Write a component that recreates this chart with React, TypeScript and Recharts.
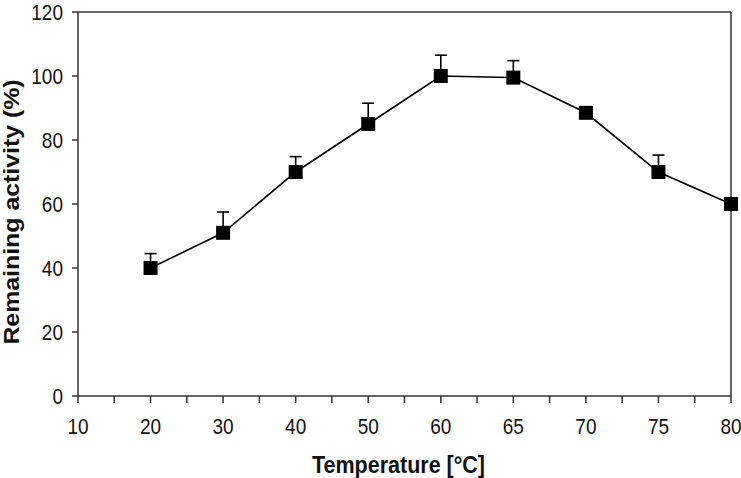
import React from "react";
import { LineChart, Line, XAxis, YAxis, ErrorBar, ReferenceLine, Label } from "recharts";

const temps = ["10", "20", "30", "40", "50", "60", "65", "70", "75", "80"];
const activity: (number | null)[] = [null, 40, 51, 70, 85, 100, 99.5, 88.5, 70, 60];
const errUp: (number | null)[] = [null, 4.5, 6.5, 4.8, 6.5, 6.5, 5.3, 0, 5.3, 0];
const yTicks = [0, 20, 40, 60, 80, 100, 120];
const xTicks = Array.from({ length: temps.length * 2 - 1 }, (_, i) => i / 2);

const data = temps.map((t, i) => ({
  idx: i,
  temp: t,
  activity: activity[i],
  err: errUp[i] == null ? null : [0, errUp[i]],
}));

const FONT = "'Liberation Sans', Arial, sans-serif";
const STRETCH = 1.13;
const AXIS = "#333";

const XTick = (props: any) => {
  const { x, y, payload } = props;
  const v = payload.value;
  const label = Number.isInteger(v) ? temps[v] : "";
  return (
    <g transform={`translate(${x},${y}) scale(1,${STRETCH})`}>
      <text x={0} y={0} dy="0.71em" textAnchor="middle" fontFamily={FONT} fontSize={19} fill="#111">
        {label}
      </text>
    </g>
  );
};

const YTick = (props: any) => {
  const { x, y, payload } = props;
  return (
    <g transform={`translate(${x},${y}) scale(1,${STRETCH})`}>
      <text x={0} y={0} dy="0.355em" textAnchor="end" fontFamily={FONT} fontSize={19} fill="#111">
        {payload.value}
      </text>
    </g>
  );
};

const Dot = (props: any) => {
  const { cx, cy, index } = props;
  if (cx == null || cy == null) return <g key={`d${index}`} />;
  return <rect key={`d${index}`} x={cx - 7} y={cy - 7} width={14} height={14} fill="#000" />;
};

export default function App() {
  return (
    <div style={{ position: "absolute", left: 0, top: 0 }}>
      <LineChart width={741} height={478} data={data} margin={{ top: 12, right: 10, bottom: 0, left: 0 }}>
        <XAxis
          dataKey="idx"
          type="number"
          domain={[0, temps.length - 1]}
          ticks={xTicks}
          interval={0}
          tick={<XTick />}
          tickSize={7}
          tickMargin={16}
          height={82}
          stroke={AXIS}
          strokeWidth={1.5}
          tickLine={{ stroke: AXIS, strokeWidth: 1.5 }}
        >
          <Label
            content={(p: any) => {
              const vb = p.viewBox;
              const cx = vb.x + vb.width / 2 - 6;
              return (
                <g transform={`translate(${cx},473) scale(1,${STRETCH})`}>
                  <text x={0} y={0} textAnchor="middle" fontFamily={FONT} fontSize={21.5} fontWeight="bold" fill="#111">
                    Temperature [°C]
                  </text>
                </g>
              );
            }}
          />
        </XAxis>
        <YAxis
          type="number"
          domain={[0, 120]}
          ticks={yTicks}
          interval={0}
          width={78}
          tick={<YTick />}
          tickSize={6}
          tickMargin={9}
          stroke={AXIS}
          strokeWidth={1.5}
          tickLine={{ stroke: AXIS, strokeWidth: 1.5 }}
        >
          <Label
            content={() => (
              <g transform={`translate(19,212) scale(1,${STRETCH}) rotate(-90)`}>
                <text x={0} y={0} textAnchor="middle" fontFamily={FONT} fontSize={22} fontWeight="bold" fill="#111">
                  Remaining activity (%)
                </text>
              </g>
            )}
          />
        </YAxis>
        <ReferenceLine y={120} stroke={AXIS} strokeWidth={1.5} />
        <ReferenceLine x={temps.length - 1} stroke={AXIS} strokeWidth={1.5} />
        <Line
          dataKey="activity"
          stroke="#000"
          strokeWidth={1.6}
          isAnimationActive={false}
          dot={Dot}
          activeDot={false}
        >
          <ErrorBar dataKey="err" direction="y" width={6} stroke="#000" strokeWidth={1.6} isAnimationActive={false} />
        </Line>
      </LineChart>
    </div>
  );
}
